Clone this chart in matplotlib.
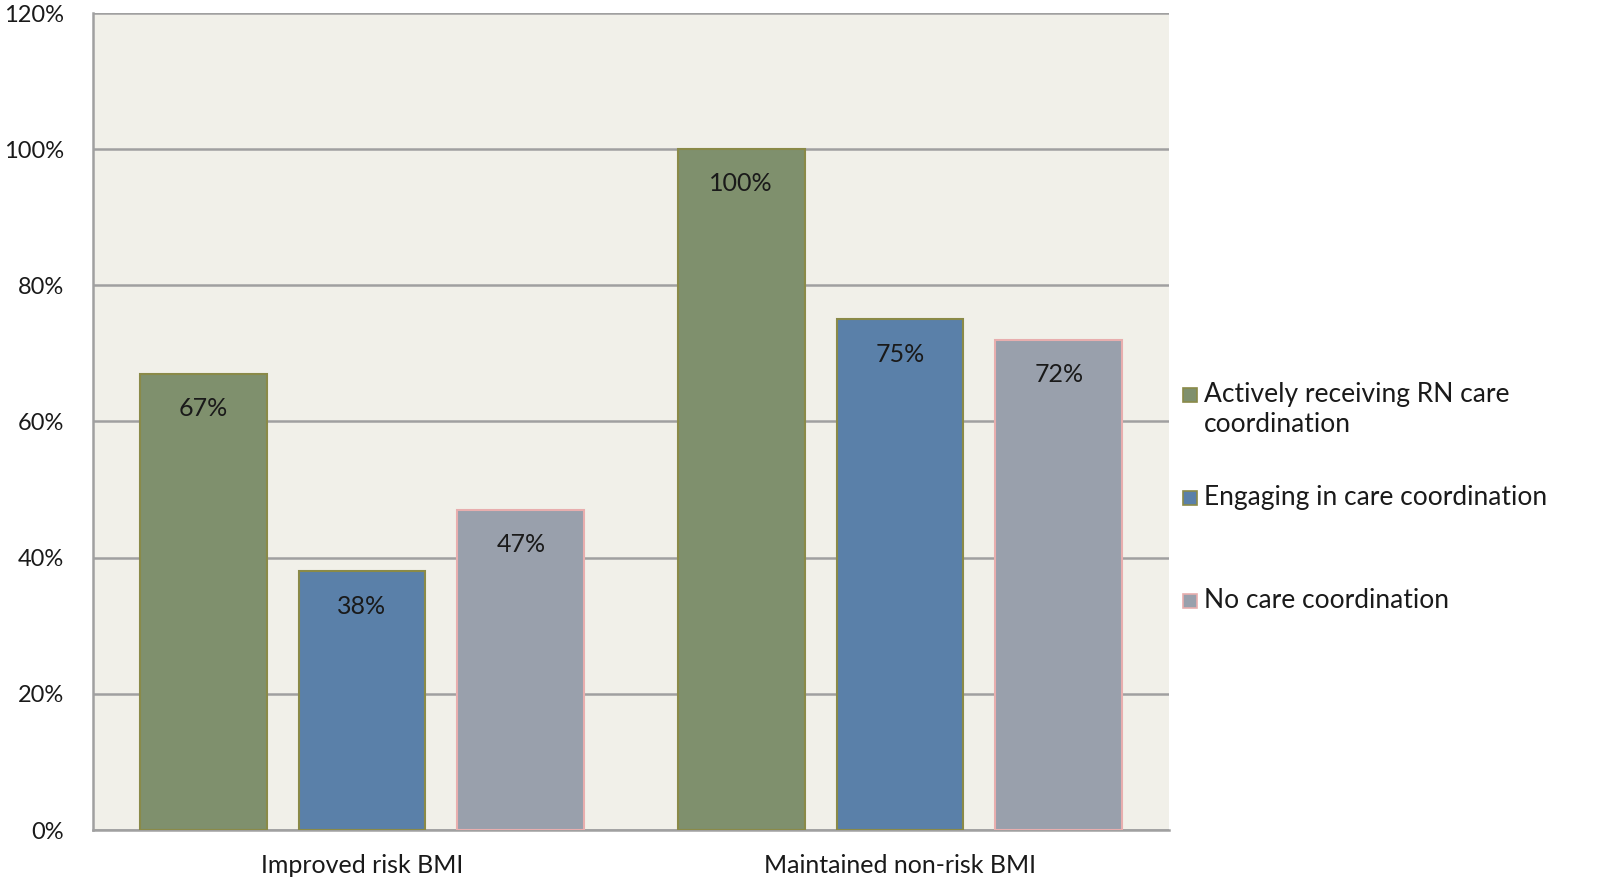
import matplotlib.pyplot as plt
import numpy as np
from matplotlib.patches import Rectangle

categories = ["Improved risk BMI", "Maintained non-risk BMI"]
series_names = [
    "Actively receiving RN care\ncoordination",
    "Engaging in care coordination",
    "No care coordination",
]
actively_receiving = [67, 100]
engaging = [38, 75]
no_coordination = [47, 72]

fill_colors = ["#7F906D", "#5A80A9", "#99A0AC"]
edge_colors = ["#8A8A48", "#8A8A48", "#E8AEAE"]

plt.rcParams["font.family"] = ["Lato", "DejaVu Sans"]

fig = plt.figure(figsize=(16.01, 8.80), dpi=100)
ax = fig.add_axes([93 / 1601, 1 - 830 / 880, (1169 - 93) / 1601, (830 - 13) / 880])
ax.set_facecolor("#F1F0E9")

x = np.arange(len(categories))
width = 0.236
step = 0.2955
values = [actively_receiving, engaging, no_coordination]

for i, vals in enumerate(values):
    offset = (i - 1) * step
    bars = ax.bar(
        x + offset,
        vals,
        width=width,
        color=fill_colors[i],
        edgecolor=edge_colors[i],
        linewidth=1.5,
        zorder=3,
    )
    for bar, v in zip(bars, vals):
        ax.annotate(
            f"{v}%",
            (bar.get_x() + bar.get_width() / 2, v),
            textcoords="offset points",
            xytext=(0, -25),
            ha="center",
            va="center",
            fontsize=18,
            color="#1A1A1A",
            zorder=4,
        )

ax.set_xlim(-0.5, 1.5)
ax.set_ylim(0, 120)
ax.set_yticks(range(0, 121, 20))
ax.set_yticklabels([f"{t}%" for t in range(0, 121, 20)])
ax.set_xticks(x)
ax.set_xticklabels(categories)
ax.tick_params(axis="both", length=0, colors="#1A1A1A")
ax.tick_params(axis="y", pad=21, labelsize=17)
ax.tick_params(axis="x", pad=17, labelsize=18)

ax.grid(axis="y", color="#A0A0A0", linewidth=1.8, zorder=1)
for side in ["top", "right"]:
    ax.spines[side].set_visible(False)
for side in ["left", "bottom"]:
    ax.spines[side].set_color("#A0A0A0")
    ax.spines[side].set_linewidth(1.8)

# legend drawn by hand so the marker sits next to the first line
legend_y = [396, 499, 602]
for name, fc, ec, ly in zip(series_names, fill_colors, edge_colors, legend_y):
    fx = 1183 / 1601
    fy = 1 - ly / 880
    fig.patches.append(
        Rectangle(
            (fx, fy - 6 / 880),
            14 / 1601,
            14 / 880,
            facecolor=fc,
            edgecolor=ec,
            linewidth=1.2,
            transform=fig.transFigure,
        )
    )
    fig.text(
        1204 / 1601,
        fy + 14 / 880,
        name,
        ha="left",
        va="top",
        fontsize=19,
        color="#1A1A1A",
        linespacing=1.25,
    )

fig.savefig("out.png", dpi=100)
